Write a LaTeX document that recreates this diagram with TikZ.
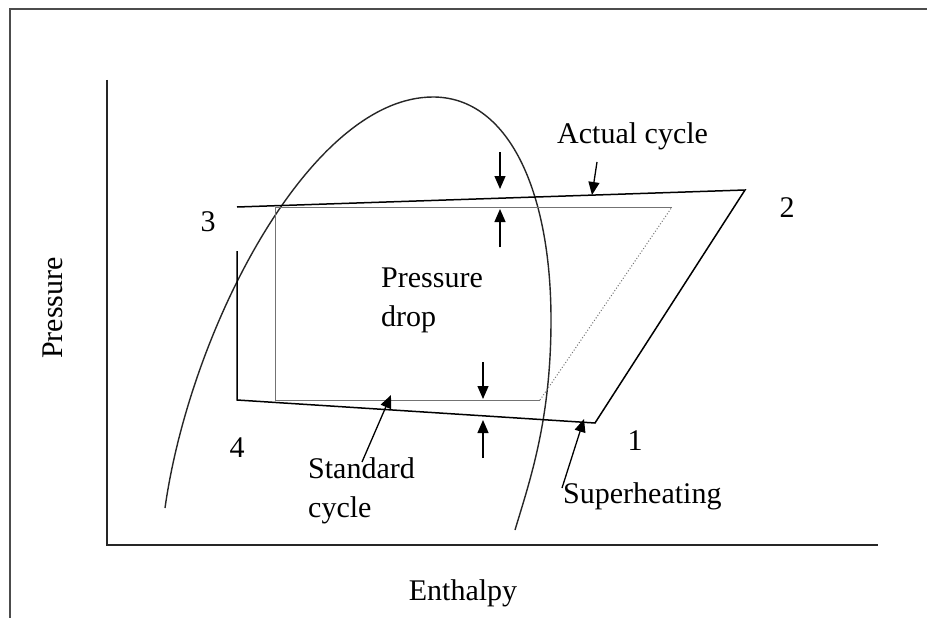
\documentclass[tikz,border=0pt]{standalone}
\usepackage{fontspec}
\setmainfont{Liberation Serif}
\usetikzlibrary{arrows.meta}
\begin{document}
\begin{tikzpicture}[x=1pt,y=-1pt,
  lbl/.style={inner sep=0pt, font=\fontsize{30}{39}\selectfont},
  axisline/.style={line width=1.6pt, black!85},
  frameline/.style={line width=2pt, black!70},
  actual/.style={line width=1.5pt, black, line join=miter},
  standard/.style={line width=1pt, black!55},
  stddot/.style={line width=1pt, black!55, dotted},
  dome/.style={line width=1.4pt, black!85},
  ptr/.style={line width=1.3pt, black, -{Triangle[length=13pt,width=11pt]}}]
\useasboundingbox (0,0) rectangle (927,618);
\fill[white] (0,0) rectangle (927,618);
% frame
\draw[frameline] (927,9) -- (10,9) -- (10,618);
% axes
\coordinate (ytop) at (107,80);
\coordinate (orig) at (107,545);
\coordinate (xend) at (878,545);
\draw[axisline] (ytop) -- (orig) -- (xend);
% saturation dome
\coordinate (dl) at (165,508);
\coordinate (dpk) at (433,97);
\coordinate (dr) at (551,320);
\coordinate (dend) at (515,530);
\draw[dome] (dl) .. controls (190,330) and (310,97) .. (dpk)
  .. controls (508,97) and (551,190) .. (dr)
  .. controls (551,420) and (530,480) .. (dend);
% actual cycle points
\coordinate (p3a) at (237,207);
\coordinate (p2) at (745,190);
\coordinate (p1) at (595,423);
\coordinate (p4a) at (237,400);
\coordinate (p4t) at (237,251);
% standard cycle points
\coordinate (s3) at (275,207);
\coordinate (s2) at (672,207);
\coordinate (s4) at (275,400);
\coordinate (s1) at (540,400);
\draw[standard] (s2) -- (s3) -- (s4) -- (s1);
\draw[stddot] (s1) -- (s2);
\draw[actual] (p3a) -- (p2) -- (p1) -- (p4a) -- (p4t);
% pressure drop arrows
\coordinate (a1s) at (500,152); \coordinate (a1e) at (500,189);
\coordinate (a2s) at (500,247); \coordinate (a2e) at (500,209);
\coordinate (a3s) at (483,362); \coordinate (a3e) at (483,399);
\coordinate (a4s) at (483,458); \coordinate (a4e) at (483,420);
\draw[ptr] (a1s) -- (a1e);
\draw[ptr] (a2s) -- (a2e);
\draw[ptr] (a3s) -- (a3e);
\draw[ptr] (a4s) -- (a4e);
% labels
\node[lbl, anchor=base west] (actlbl) at (557,143) {Actual cycle};
\node[lbl, anchor=base] (n3) at (208,231) {3};
\node[lbl, anchor=base] (n2) at (787,217) {2};
\node[lbl, anchor=base] (n4) at (237,457) {4};
\node[lbl, anchor=base] (n1) at (635,450) {1};
\node[lbl, anchor=north west, align=left] (pdrop) at (381,268) {Pressure\\drop};
\node[lbl, anchor=north west, align=left] (stdlbl) at (308,457) {Standard\\cycle};
\node[lbl, anchor=base west] (suplbl) at (563,503) {Superheating};
\node[lbl, anchor=base] (xlbl) at (463,600) {Enthalpy};
\node[lbl, rotate=90] (ylbl) at (53,308) {Pressure};
% label pointers
\coordinate (actS) at (597,162); \coordinate (actE) at (592,195);
\coordinate (stdS) at (362,462); \coordinate (stdE) at (391,395);
\coordinate (supS) at (562,488); \coordinate (supE) at (584,419);
\draw[ptr] (actS) -- (actE);
\draw[ptr] (stdS) -- (stdE);
\draw[ptr] (supS) -- (supE);
\end{tikzpicture}
\end{document}
